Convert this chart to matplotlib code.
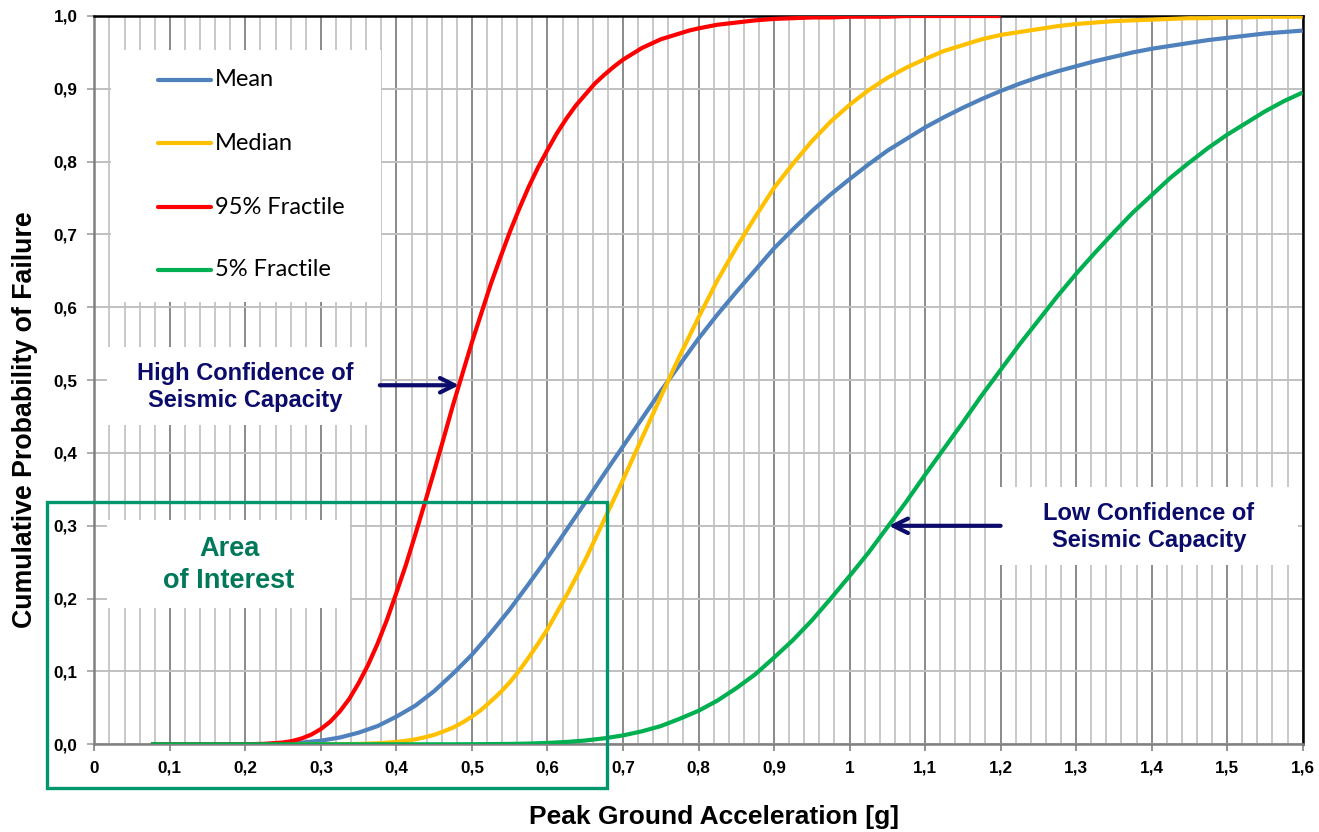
import matplotlib
matplotlib.use("Agg")
import matplotlib.pyplot as plt
from matplotlib.patches import Rectangle
from matplotlib.lines import Line2D
from matplotlib.transforms import Affine2D

# Peak ground acceleration samples [g] (mean and 5% fractile curves)
pga = [0.075, 0.1, 0.125, 0.15, 0.175, 0.2, 0.225, 0.25, 0.275, 0.3,
       0.325, 0.35, 0.375, 0.4, 0.425, 0.45, 0.475, 0.5, 0.525, 0.55,
       0.575, 0.6, 0.625, 0.65, 0.675, 0.7, 0.725, 0.75, 0.775, 0.8,
       0.825, 0.85, 0.875, 0.9, 0.925, 0.95, 0.975, 1.0, 1.025, 1.05,
       1.075, 1.1, 1.125, 1.15, 1.175, 1.2, 1.225, 1.25, 1.275, 1.3,
       1.325, 1.35, 1.375, 1.4, 1.425, 1.45, 1.475, 1.5, 1.525, 1.55,
       1.575, 1.6]

p_mean = [0, 0, 0, 0, 0, 0.0001, 0.0004, 0.001, 0.0024, 0.005,
          0.0093, 0.016, 0.025, 0.038, 0.053, 0.073, 0.097, 0.123, 0.153, 0.185,
          0.220, 0.256, 0.294, 0.332, 0.371, 0.409, 0.447, 0.485, 0.521, 0.557,
          0.590, 0.621, 0.651, 0.681, 0.707, 0.732, 0.755, 0.776, 0.796, 0.815,
          0.831, 0.847, 0.861, 0.874, 0.886, 0.897, 0.907, 0.916, 0.924, 0.931,
          0.938, 0.944, 0.950, 0.955, 0.959, 0.963, 0.967, 0.970, 0.973, 0.976,
          0.978, 0.980]

p_05 = [0, 0, 0, 0, 0, 0, 0, 0, 0, 0,
        0, 0, 0, 0, 0, 0, 0, 0.0001, 0.0003, 0.0005,
        0.001, 0.0019, 0.0032, 0.0052, 0.0082, 0.0122, 0.0178, 0.025, 0.035, 0.046,
        0.060, 0.077, 0.096, 0.119, 0.143, 0.170, 0.200, 0.231, 0.263, 0.298,
        0.333, 0.370, 0.406, 0.442, 0.479, 0.514, 0.549, 0.582, 0.615, 0.646,
        0.675, 0.703, 0.730, 0.754, 0.778, 0.799, 0.819, 0.837, 0.853, 0.869,
        0.883, 0.895]

# Median curve, sampled more densely around its lower bend
pga_median = [0.075, 0.1, 0.125, 0.15, 0.175, 0.2, 0.225, 0.25, 0.275, 0.3,
              0.325, 0.35, 0.375, 0.3875, 0.4, 0.4125, 0.425, 0.4375, 0.45, 0.4625,
              0.475, 0.4875, 0.5, 0.5125, 0.525, 0.5375, 0.55, 0.5625, 0.575, 0.5875,
              0.6, 0.625, 0.65, 0.675, 0.7, 0.725, 0.75, 0.775, 0.8,
              0.825, 0.85, 0.875, 0.9, 0.925, 0.95, 0.975, 1.0, 1.025, 1.05,
              1.075, 1.1, 1.125, 1.15, 1.175, 1.2, 1.225, 1.25, 1.275, 1.3,
              1.325, 1.35, 1.375, 1.4, 1.425, 1.45, 1.475, 1.5, 1.525, 1.55,
              1.575, 1.6]
p_median = [0, 0, 0, 0, 0, 0, 0, 0, 0, 0,
            0.0002, 0.0005, 0.0014, 0.0022, 0.0033, 0.0048, 0.0068, 0.0096, 0.013, 0.0177,
            0.023, 0.0299, 0.038, 0.0475, 0.059, 0.0711, 0.085, 0.101, 0.119, 0.138,
            0.158, 0.204, 0.253, 0.308, 0.363, 0.420, 0.477, 0.533, 0.586,
            0.637, 0.682, 0.724, 0.764, 0.797, 0.828, 0.855, 0.878, 0.898, 0.915,
            0.929, 0.941, 0.952, 0.960, 0.968, 0.974, 0.978, 0.982, 0.986, 0.989,
            0.991, 0.993, 0.994, 0.995, 0.996, 0.997, 0.997, 0.998, 0.998, 0.999,
            0.999, 0.999]

# 95% fractile, tabulated up to 1.2 g, denser through its steep part
pga_95 = [0.075, 0.1, 0.125, 0.15, 0.175, 0.2, 0.225, 0.25, 0.2625, 0.275,
          0.2875, 0.3, 0.3125, 0.325, 0.3375, 0.35, 0.3625, 0.375, 0.3875, 0.4,
          0.4125, 0.425, 0.4375, 0.45, 0.4625, 0.475, 0.4875, 0.5, 0.5125, 0.525,
          0.5375, 0.55, 0.5625, 0.575, 0.5875, 0.6, 0.6125, 0.625, 0.6375, 0.65,
          0.6625, 0.675, 0.6875, 0.7, 0.7125, 0.725, 0.7375, 0.75, 0.7625, 0.775,
          0.7875, 0.8, 0.825, 0.85, 0.875, 0.9, 0.925, 0.95, 0.975, 1.0,
          1.025, 1.05, 1.075, 1.1, 1.125, 1.15, 1.175, 1.2]
p_95 = [0, 0, 0, 0, 0, 0.0001, 0.0006, 0.0025, 0.0046, 0.0082,
        0.0134, 0.021, 0.0312, 0.045, 0.0622, 0.084, 0.109, 0.138, 0.171, 0.208,
        0.246, 0.288, 0.331, 0.375, 0.420, 0.466, 0.509, 0.552, 0.592, 0.632,
        0.668, 0.703, 0.735, 0.765, 0.792, 0.816, 0.839, 0.859, 0.877, 0.892,
        0.907, 0.919, 0.930, 0.940, 0.948, 0.956, 0.962, 0.968, 0.972, 0.976,
        0.980, 0.983, 0.988, 0.991, 0.994, 0.996, 0.997, 0.998, 0.998, 0.999,
        0.999, 0.999, 1.0, 1.0, 1.0, 1.0, 1.0, 1.0]

series_names = ["Mean", "Median", "95% Fractile", "5% Fractile"]
series_colors = ["#4f81bd", "#ffc000", "#ff0000", "#00b050"]

x_ticks = [0, 0.1, 0.2, 0.3, 0.4, 0.5, 0.6, 0.7, 0.8, 0.9, 1.0,
           1.1, 1.2, 1.3, 1.4, 1.5, 1.6]
x_tick_labels = ["0", "0,1", "0,2", "0,3", "0,4", "0,5", "0,6", "0,7", "0,8",
                 "0,9", "1", "1,1", "1,2", "1,3", "1,4", "1,5", "1,6"]
y_ticks = [0, 0.1, 0.2, 0.3, 0.4, 0.5, 0.6, 0.7, 0.8, 0.9, 1.0]
y_tick_labels = ["0,0", "0,1", "0,2", "0,3", "0,4", "0,5", "0,6", "0,7",
                 "0,8", "0,9", "1,0"]

# Area of interest bounds (PGA, probability)
interest_pga = 0.679
interest_prob = 0.333

# Arrow targets on the fractile curves
high_conf_point = (0.483, 0.493)
low_conf_point = (1.052, 0.300)

W, H = 1319, 832
fig = plt.figure(figsize=(W / 100, H / 100), dpi=100)
fig.patch.set_facecolor("white")

# pixel helper: (x, y) measured from the top-left corner of the figure
pix = Affine2D().scale(1 / W, -1 / H).translate(0, 1) + fig.transFigure

ax_l, ax_r, ax_t, ax_b = 94.3, 1302.7, 16.0, 744.3
ax = fig.add_axes([ax_l / W, 1 - ax_b / H, (ax_r - ax_l) / W, (ax_b - ax_t) / H])
ax.set_xlim(0, 1.6)
ax.set_ylim(0, 1.0)
ax.set_axisbelow(True)

tick_font = dict(family="Liberation Sans", weight="bold", size=12.3)
ax.set_xticks(x_ticks)
ax.set_xticklabels(x_tick_labels, fontdict=tick_font)
ax.set_xticks([i * 0.02 for i in range(81)], minor=True)
ax.set_yticks(y_ticks)
ax.set_yticklabels(y_tick_labels, fontdict=tick_font)
ax.tick_params(axis="x", which="major", length=5, width=1.2, color="#808080", pad=7)
ax.tick_params(axis="x", which="minor", length=0)
ax.tick_params(axis="y", which="major", length=5, width=1.2, color="#a0a0a0", pad=7)

ax.grid(which="minor", axis="x", color="#c8c8c8", lw=1.4)
ax.grid(which="major", axis="x", color="#8a8a8a", lw=1.4)
ax.grid(which="major", axis="y", color="#c0c0c0", lw=1.4)

for side in ("top", "right"):
    ax.spines[side].set_color("black")
    ax.spines[side].set_linewidth(1.8)
for side in ("left", "bottom"):
    ax.spines[side].set_color("#808080")
    ax.spines[side].set_linewidth(1.8)

# fragility curves
line_kw = dict(lw=3, zorder=3, solid_capstyle="butt", solid_joinstyle="round")
ax.plot(pga, p_mean, color=series_colors[0], **line_kw)
ax.plot(pga_median, p_median, color=series_colors[1], **line_kw)
ax.plot(pga_95, p_95, color=series_colors[2], **line_kw)
ax.plot(pga, p_05, color=series_colors[3], **line_kw)

# white panels behind legend and annotations
def white_box(x0, y0, x1, y1):
    ax.add_patch(Rectangle((x0, y0), x1 - x0, y1 - y0, transform=pix,
                           facecolor="white", edgecolor="none", zorder=1.5,
                           clip_on=False))

white_box(111, 50, 381, 302)
white_box(107, 347, 380, 425)
white_box(107, 520, 350, 608)
white_box(999, 487, 1298, 565)

# legend
legend_rows = [80, 143, 207, 270]
for name, color, yrow in zip(series_names, series_colors, legend_rows):
    ax.add_line(Line2D([158, 211], [yrow, yrow], transform=pix, color=color,
                       lw=3, solid_capstyle="round", zorder=2, clip_on=False))
    ax.text(215, yrow, name, transform=pix, fontsize=17, family="Lato",
            va="center", ha="left", color="black", zorder=2)

navy = "#0b0b6b"
ax.text(245, 387, "High Confidence of\nSeismic Capacity", transform=pix,
        ha="center", va="center", fontsize=17, fontweight="bold",
        family="Liberation Sans", color=navy, linespacing=1.2, zorder=2)
ax.text(1149, 527, "Low Confidence of\nSeismic Capacity", transform=pix,
        ha="center", va="center", fontsize=17, fontweight="bold",
        family="Liberation Sans", color=navy, linespacing=1.2, zorder=2)
ax.text(229, 565, "Area\nof Interest", transform=pix,
        ha="center", va="center", fontsize=19.5, fontweight="bold",
        family="Liberation Sans", color="#00785a", linespacing=1.3, zorder=2)

arrow_style = dict(arrowstyle="->", color=navy, lw=3, mutation_scale=26,
                   shrinkA=0, shrinkB=0)
ax.annotate("", xy=high_conf_point, xytext=(0.378, high_conf_point[1]),
            arrowprops=arrow_style, zorder=5)
ax.annotate("", xy=low_conf_point, xytext=(1.2, low_conf_point[1]),
            arrowprops=arrow_style, zorder=5)

# area of interest frame, extending past the axes
ax.add_patch(Rectangle((-0.063, -0.06), interest_pga + 0.063, interest_prob + 0.06,
                       facecolor="none", edgecolor="#00966e", lw=2.4,
                       zorder=4, clip_on=False))

fig.text(714 / W, 1 - 817 / H, "Peak Ground Acceleration [g]", ha="center",
         va="center", fontsize=19, fontweight="bold", family="Liberation Sans")
fig.text(25 / W, 1 - 420 / H, "Cumulative Probability of Failure", rotation=90,
         ha="center", va="center", fontsize=19.3, fontweight="bold",
         family="Liberation Sans")

fig.savefig("out.png", dpi=100)
